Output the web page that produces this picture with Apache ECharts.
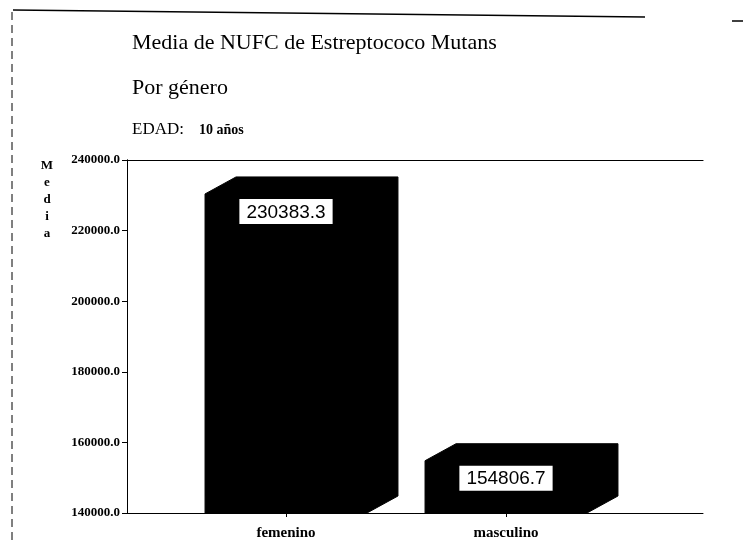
<!DOCTYPE html>
<html>
<head>
<meta charset="utf-8">
<script src="https://cdn.jsdelivr.net/npm/echarts@6/dist/echarts.min.js"></script>
<style>
  html, body { margin: 0; padding: 0; background: #fff; }
  #chart { width: 743px; height: 545px; }
</style>
</head>
<body>
<div id="chart"></div>
<script>
// datos del grafico
const categories = ['femenino', 'masculino']
const medias = [230383.3, 154806.7]
const yTicks = [140000, 160000, 180000, 200000, 220000, 240000]

const yMin = yTicks[0]
const yMax = yTicks[yTicks.length - 1]
const yStep = yTicks[1] - yTicks[0]

const serif = '"Liberation Serif", "DejaVu Serif", serif'
const depthX = 31
const depthY = 17

const chart = echarts.init(document.getElementById('chart'), null, { renderer: 'canvas' })

// barra 3D: cara frontal + techo + lateral, todo negro
function renderBar(params, api) {
  const top = api.coord([api.value(0), api.value(1)])
  const base = api.coord([api.value(0), yMin])
  const w = api.size([1, 0])[0] * 0.736
  const x0 = top[0] - w / 2
  const x1 = top[0] + w / 2
  const points = [
    [x0, base[1]],
    [x0, top[1]],
    [x0 + depthX, top[1] - depthY],
    [x1 + depthX, top[1] - depthY],
    [x1 + depthX, base[1] - depthY],
    [x1, base[1]]
  ]
  return {
    type: 'group',
    children: [
      {
        type: 'polygon',
        shape: { points },
        style: { fill: '#000', stroke: '#000', lineWidth: 1 }
      },
      {
        type: 'text',
        x: top[0],
        y: top[1] + 5,
        style: {
          text: api.value(1).toFixed(1),
          fontFamily: '"Liberation Sans", sans-serif',
          fontSize: 19,
          fill: '#000',
          align: 'center',
          verticalAlign: 'top',
          backgroundColor: '#fff',
          borderColor: '#000',
          borderWidth: 1,
          padding: [4, 7, 2, 7]
        }
      }
    ]
  }
}

const option = {
  backgroundColor: '#fff',
  animation: false,
  title: [
    {
      text: 'Media de NUFC de Estreptococo Mutans',
      left: 127,
      top: 27,
      textStyle: { fontFamily: serif, fontSize: 22, fontWeight: 'normal', color: '#000' }
    },
    {
      text: 'Por género',
      left: 127,
      top: 72,
      textStyle: { fontFamily: serif, fontSize: 22, fontWeight: 'normal', color: '#000' }
    },
    {
      text: '{a|EDAD:}   {b|10 años}',
      left: 127,
      top: 116,
      textStyle: {
        fontWeight: 'normal',
        rich: {
          a: { fontFamily: serif, fontSize: 17, fontWeight: 'normal', color: '#000' },
          b: { fontFamily: serif, fontSize: 14, fontWeight: 'bold', color: '#000' }
        }
      }
    },
    {
      text: 'M\ne\nd\ni\na',
      left: 42,
      top: 152,
      textAlign: 'center',
      textStyle: { fontFamily: serif, fontSize: 13, fontWeight: 'bold', lineHeight: 17, color: '#000' }
    }
  ],
  graphic: [
    { type: 'line', shape: { x1: 13, y1: 10, x2: 645, y2: 17 }, style: { stroke: '#000', lineWidth: 1.5 } },
    { type: 'line', shape: { x1: 732, y1: 21, x2: 743, y2: 21 }, style: { stroke: '#000', lineWidth: 1.5 } },
    { type: 'line', shape: { x1: 12, y1: 12, x2: 12, y2: 545 }, style: { stroke: '#000', lineWidth: 1, lineDash: [8, 5] } }
  ],
  grid: [
    { left: 127, right: 40, top: 160, bottom: 32 },
    { left: 176, right: 127, top: 160, bottom: 32 }
  ],
  xAxis: [
    {
      gridIndex: 0, type: 'value', min: 0, max: 1, position: 'bottom',
      axisLine: { show: true, lineStyle: { color: '#000', width: 1 } },
      axisTick: { show: false }, axisLabel: { show: false }, splitLine: { show: false }
    },
    {
      gridIndex: 0, type: 'value', min: 0, max: 1, position: 'top',
      axisLine: { show: true, lineStyle: { color: '#000', width: 1.2 } },
      axisTick: { show: false }, axisLabel: { show: false }, splitLine: { show: false }
    },
    {
      gridIndex: 1, type: 'category', data: categories, position: 'bottom',
      axisLine: { show: false },
      axisTick: { show: true, alignWithLabel: true, length: 4, lineStyle: { color: '#000' } },
      axisLabel: { margin: 13, fontFamily: serif, fontSize: 15, fontWeight: 'bold', color: '#000' },
      splitLine: { show: false }
    }
  ],
  yAxis: [
    {
      gridIndex: 0, type: 'value', min: yMin, max: yMax, interval: yStep, position: 'left',
      axisLine: { show: true, lineStyle: { color: '#000', width: 1 } },
      axisTick: { show: true, length: 5, lineStyle: { color: '#000' } },
      axisLabel: {
        margin: 7,
        fontFamily: serif, fontSize: 13, fontWeight: 'bold', color: '#000',
        formatter: v => v.toFixed(1)
      },
      splitLine: { show: false }
    },
    {
      gridIndex: 0, type: 'value', min: yMin, max: yMax, interval: yStep, position: 'right',
      axisLine: { show: true, lineStyle: { color: '#000', width: 1, type: [6, 6] } },
      axisTick: { show: false }, axisLabel: { show: false }, splitLine: { show: false }
    },
    {
      gridIndex: 1, type: 'value', min: yMin, max: yMax, interval: yStep, show: false
    }
  ],
  series: [
    {
      type: 'custom',
      xAxisIndex: 2,
      yAxisIndex: 2,
      renderItem: renderBar,
      data: categories.map((c, i) => [i, medias[i]]),
      z: 5
    }
  ]
}

chart.setOption(option)
</script>
</body>
</html>
